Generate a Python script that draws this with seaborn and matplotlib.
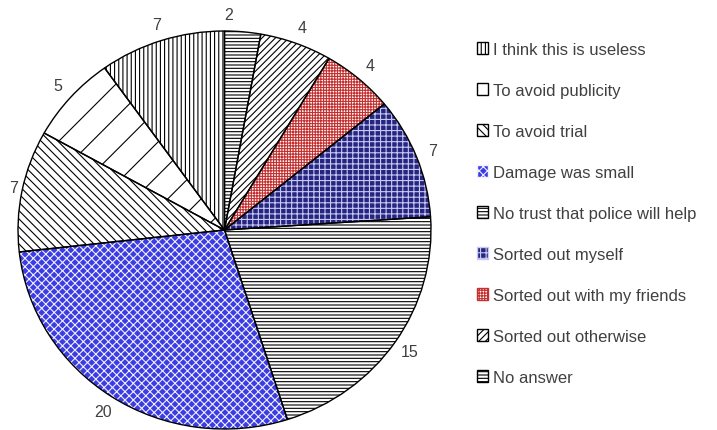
import matplotlib
matplotlib.use("Agg")
import matplotlib.pyplot as plt
import seaborn as sns
from matplotlib.patches import Patch

# reasons, in drawing order (counter-clockwise from 12 o'clock)
reasons = ["I think this is useless", "To avoid publicity", "To avoid trial",
           "Damage was small", "No trust that police will help", "Sorted out myself",
           "Sorted out with my friends", "Sorted out otherwise", "No answer"]
counts = [7, 5, 7, 20, 15, 7, 4, 4, 2]

face = ["white", "white", "white", "#3c3ce4", "white", "#262680", "white", "white", "white"]
hatch_col = ["black", "black", "black", "#f0f0ff", "black", "#c8c8f4", "#c43030", "black", "black"]
hatches = ["||||", "/", "\\\\\\\\", "xxxx", "-----", "+++", "++++++", "/////", "-----"]
legend_hatches = ["||||", "", "\\\\\\\\", "xxxx", "-----", "+++", "++++++", "/////", "-----"]

sns.set_theme(style="white")
plt.rcParams["font.family"] = ["Liberation Sans", "DejaVu Sans"]
plt.rcParams["hatch.linewidth"] = 0.8

fig = plt.figure(figsize=(7.17, 4.31), dpi=100)
ax = fig.add_axes([18 / 717, 1 / 431, 413 / 717, 398 / 431])

# fill layer with hatches
wedges, texts = ax.pie(counts, startangle=90, counterclock=True, labels=[str(c) for c in counts],
                       labeldistance=1.085, textprops=dict(color="#404040", fontsize=11.5),
                       wedgeprops=dict(linewidth=0))
for w, fc, hc, h in zip(wedges, face, hatch_col, hatches):
    w.set_facecolor(fc)
    w.set_edgecolor(hc)
    w.set_hatch(h)
for t in texts:
    t.set_ha("center")
    t.set_va("center")
# the small top label sits left of its slice
texts[-1].set_x(texts[-1].get_position()[0] - 0.075)
texts[2].set_x(texts[2].get_position()[0] + 0.04)

# outline layer
ax.pie(counts, startangle=90, counterclock=True,
       wedgeprops=dict(fill=False, edgecolor="black", linewidth=1.0))

ax.set_aspect("auto")
ax.set_xlim(-1, 1)
ax.set_ylim(-1, 1)
ax.axis("off")

handles = [Patch(facecolor=fc, edgecolor=hc, hatch=h) for fc, hc, h in zip(face, hatch_col, legend_hatches)]
leg = fig.legend(handles, reasons, loc="upper left", bbox_to_anchor=(470 / 717, 1 - 36 / 431),
                 frameon=False, handlelength=0.7, handleheight=0.7, handletextpad=0.25,
                 labelspacing=1.56, fontsize=12, labelcolor="#404040", borderaxespad=0)
for p in leg.get_patches():
    p.set_linewidth(1.0)

fig.savefig("out.png", dpi=100)
